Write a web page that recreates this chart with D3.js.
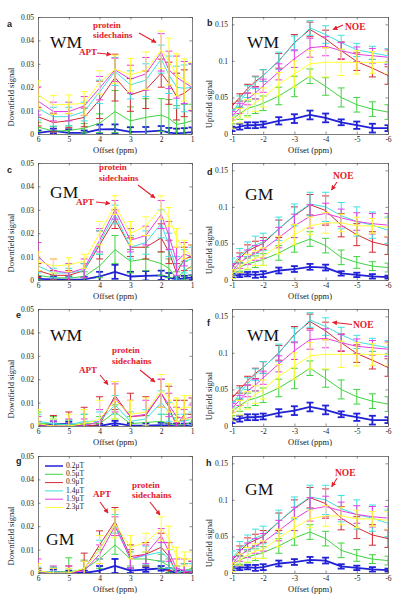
<!DOCTYPE html>
<html><head><meta charset="utf-8">
<script src="https://cdn.jsdelivr.net/npm/d3@7"></script>
<style>body{margin:0;background:#fff}svg{display:block}</style>
</head><body>
<script>
// ---------- data ----------
const offsetsDown = [6,5.5,5,4.5,4,3.5,3,2.5,2,1.75,1.5,1.25,1];
const offsetsUp = [-1,-1.25,-1.5,-1.75,-2,-2.5,-3,-3.5,-4,-4.5,-5,-5.5,-6];
const b1Labels = ["0.2\u03bcT","0.5\u03bcT","0.9\u03bcT","1.4\u03bcT","1.9\u03bcT","2.3\u03bcT"];
const seriesColors = ["#2121d6","#3fd43f","#d42a34","#40e0e0","#e63de6","#ffff33"];
const downXTicks = [6,5,4,3,2,1];
const upXTicks = [-1,-2,-3,-4,-5,-6];
const downYTicks = [0,0.01,0.02,0.03,0.04,0.05];
const upYTicks = [0,0.05,0.1,0.15];

// panel a: WM downfield (rows: 0.2,0.5,0.9,1.4,1.9,2.3 uT)
const aMean = [
 [0.0005,0.0013,0.0005,0.0005,0.002,0.0021,0.0009,0.001,0.0014,0.0006,0.0003,0.0005,0.0008],
 [0.003,0.0012,0.0015,0.0025,0.0046,0.0096,0.0056,0.0071,0.0081,0.0067,0.0041,0.0047,0.0057],
 [0.0074,0.0049,0.0057,0.0071,0.0146,0.0241,0.0167,0.0189,0.026,0.0217,0.016,0.0174,0.02],
 [0.011,0.0074,0.0074,0.0096,0.018,0.0267,0.021,0.023,0.032,0.0253,0.02,0.0195,0.02],
 [0.0141,0.0096,0.0096,0.012,0.0196,0.0274,0.0234,0.0257,0.0349,0.0274,0.0243,0.022,0.02],
 [0.0167,0.0124,0.0127,0.0131,0.022,0.0277,0.0253,0.0271,0.036,0.031,0.0253,0.0231,0.0206]];
const aErr = [
 [0.001,0.001,0.0015,0.001,0.002,0.002,0.002,0.002,0.002,0.002,0.002,0.002,0.002],
 [0.002,0.002,0.002,0.002,0.004,0.009,0.006,0.008,0.007,0.008,0.008,0.008,0.007],
 [0.004,0.004,0.003,0.004,0.008,0.01,0.007,0.008,0.006,0.009,0.01,0.01,0.01],
 [0.005,0.004,0.004,0.004,0.005,0.006,0.006,0.007,0.006,0.008,0.009,0.01,0.01],
 [0.006,0.004,0.004,0.004,0.005,0.005,0.006,0.007,0.008,0.008,0.009,0.009,0.01],
 [0.006,0.004,0.004,0.005,0.005,0.006,0.007,0.008,0.008,0.01,0.009,0.009,0.01]];

// panels b and f: WM upfield
const bMean = [
 [0.007,0.01,0.012,0.012,0.013,0.018,0.021,0.026,0.022,0.016,0.012,0.008,0.008],
 [0.02,0.028,0.035,0.038,0.042,0.052,0.065,0.079,0.065,0.05,0.04,0.034,0.03],
 [0.038,0.05,0.062,0.072,0.08,0.1,0.125,0.143,0.13,0.114,0.099,0.09,0.08],
 [0.028,0.045,0.058,0.07,0.08,0.1,0.124,0.145,0.136,0.125,0.115,0.111,0.107],
 [0.025,0.035,0.048,0.056,0.066,0.085,0.103,0.118,0.12,0.114,0.109,0.107,0.105],
 [0.015,0.025,0.035,0.043,0.05,0.068,0.082,0.096,0.098,0.098,0.098,0.098,0.098]];
const bErr = [
 [0.003,0.004,0.004,0.004,0.004,0.005,0.006,0.006,0.006,0.004,0.005,0.006,0.004],
 [0.006,0.008,0.01,0.01,0.01,0.012,0.014,0.01,0.012,0.013,0.01,0.01,0.01],
 [0.004,0.005,0.006,0.007,0.008,0.01,0.011,0.01,0.012,0.012,0.012,0.012,0.012],
 [0.005,0.007,0.008,0.008,0.008,0.012,0.01,0.01,0.012,0.01,0.009,0.009,0.01],
 [0.006,0.007,0.008,0.008,0.009,0.011,0.012,0.013,0.013,0.011,0.01,0.01,0.01],
 [0.008,0.01,0.012,0.012,0.013,0.016,0.018,0.018,0.02,0.018,0.016,0.015,0.015]];

// panel c: GM downfield
const cMean = [
 [0.0005,0.0003,0.0002,0.0003,0.0015,0.0035,0.0015,0.0018,0.002,0.001,0.0002,0.0008,0.001],
 [0.002,0.001,0.0008,0.0015,0.006,0.013,0.008,0.009,0.007,0.005,0.0005,0.004,0.006],
 [0.004,0.002,0.002,0.004,0.015,0.026,0.014,0.014,0.018,0.012,0.003,0.009,0.01],
 [0.006,0.003,0.003,0.004,0.016,0.028,0.014,0.016,0.024,0.015,0.005,0.008,0.009],
 [0.01,0.004,0.003,0.005,0.017,0.03,0.017,0.019,0.028,0.019,0.008,0.011,0.01],
 [0.008,0.006,0.0065,0.008,0.02,0.032,0.02,0.023,0.031,0.027,0.018,0.013,0.01]];
const cErr = [
 [0.001,0.001,0.001,0.001,0.002,0.003,0.002,0.002,0.002,0.002,0.001,0.001,0.001],
 [0.002,0.001,0.001,0.002,0.005,0.006,0.005,0.005,0.005,0.004,0.003,0.004,0.004],
 [0.003,0.002,0.002,0.003,0.006,0.004,0.004,0.005,0.006,0.005,0.004,0.005,0.005],
 [0.003,0.002,0.002,0.003,0.005,0.004,0.005,0.005,0.006,0.005,0.005,0.005,0.005],
 [0.006,0.005,0.004,0.004,0.005,0.004,0.005,0.004,0.006,0.006,0.006,0.005,0.005],
 [0.004,0.003,0.003,0.003,0.005,0.004,0.005,0.004,0.005,0.004,0.004,0.004,0.005]];

// panels d and h: GM upfield
const dMean = [
 [0.006,0.007,0.008,0.007,0.008,0.013,0.015,0.018,0.017,0.009,0.007,0.005,0.004],
 [0.012,0.018,0.022,0.025,0.028,0.037,0.048,0.056,0.047,0.031,0.024,0.019,0.017],
 [0.017,0.03,0.04,0.045,0.05,0.07,0.088,0.103,0.095,0.075,0.062,0.052,0.047],
 [0.02,0.033,0.042,0.048,0.052,0.07,0.089,0.104,0.1,0.088,0.08,0.075,0.068],
 [0.012,0.024,0.031,0.037,0.042,0.058,0.074,0.087,0.091,0.085,0.08,0.077,0.075],
 [0.008,0.018,0.025,0.03,0.032,0.048,0.062,0.074,0.078,0.078,0.074,0.074,0.072]];
const dErr = [
 [0.003,0.003,0.003,0.004,0.004,0.004,0.004,0.004,0.004,0.003,0.003,0.003,0.002],
 [0.006,0.006,0.008,0.008,0.008,0.01,0.01,0.01,0.01,0.01,0.008,0.006,0.006],
 [0.005,0.007,0.008,0.008,0.008,0.012,0.012,0.014,0.02,0.016,0.015,0.014,0.012],
 [0.01,0.01,0.01,0.012,0.012,0.016,0.015,0.016,0.02,0.018,0.02,0.018,0.018],
 [0.01,0.008,0.01,0.01,0.012,0.014,0.016,0.016,0.014,0.012,0.012,0.014,0.016],
 [0.006,0.008,0.01,0.01,0.012,0.012,0.014,0.012,0.014,0.012,0.012,0.01,0.012]];

// panel e: WM downfield
const eMean = [
 [0.0,0.001,0.0008,0.0,0.0,0.0012,0.0002,0.0002,0.0004,0.0,0.0,0.0,0.0],
 [0.001,0.001,0.0005,0.001,0.001,0.006,0.001,0.0015,0.002,0.001,0.0005,0.0005,0.002],
 [0.0,0.0,0.0,0.0,0.0005,0.013,0.004,0.0045,0.014,0.008,0.0,0.005,0.005],
 [0.002,0.001,0.0005,0.002,0.002,0.009,0.002,0.003,0.01,0.006,0.002,0.002,0.003],
 [0.0,0.0,0.0,0.0,0.002,0.012,0.004,0.005,0.014,0.009,0.004,0.003,0.004],
 [0.001,0.0,0.0,0.001,0.003,0.011,0.005,0.006,0.015,0.012,0.007,0.008,0.008]];
const eErr = [
 [0.001,0.001,0.001,0.001,0.001,0.001,0.001,0.001,0.001,0.001,0.001,0.001,0.001],
 [0.005,0.003,0.002,0.004,0.003,0.003,0.003,0.003,0.003,0.004,0.003,0.002,0.003],
 [0.002,0.0045,0.006,0.008,0.012,0.006,0.01,0.008,0.006,0.009,0.011,0.006,0.007],
 [0.003,0.002,0.002,0.003,0.004,0.004,0.004,0.004,0.005,0.004,0.003,0.003,0.003],
 [0.004,0.002,0.003,0.003,0.005,0.006,0.007,0.006,0.006,0.005,0.004,0.004,0.005],
 [0.006,0.003,0.005,0.006,0.008,0.008,0.006,0.006,0.007,0.006,0.005,0.005,0.005]];

// panel g: GM downfield
const gMean = [
 [0.0,0.0005,0.0,0.0,0.001,0.003,0.001,0.0015,0.002,0.001,0.0,0.0,0.0],
 [0.0,0.0005,0.0005,0.0015,0.006,0.012,0.006,0.006,0.005,0.003,0.0,0.001,0.002],
 [0.0,0.0,0.0,0.0015,0.012,0.022,0.007,0.008,0.011,0.007,0.0,0.0,0.001],
 [0.0005,0.0005,0.0,0.002,0.01,0.021,0.006,0.0075,0.009,0.006,0.0,0.001,0.001],
 [0.0,0.0,0.0,0.001,0.008,0.02,0.006,0.008,0.016,0.009,0.002,0.001,0.0],
 [0.001,0.0,0.0,0.002,0.01,0.021,0.011,0.013,0.019,0.015,0.007,0.006,0.006]];
const gErr = [
 [0.001,0.001,0.001,0.001,0.002,0.003,0.001,0.001,0.001,0.001,0.001,0.001,0.001],
 [0.002,0.002,0.006,0.004,0.004,0.004,0.003,0.003,0.003,0.003,0.002,0.003,0.003],
 [0.002,0.002,0.003,0.007,0.006,0.006,0.005,0.005,0.006,0.006,0.003,0.004,0.004],
 [0.002,0.002,0.002,0.003,0.004,0.004,0.004,0.004,0.004,0.004,0.003,0.003,0.003],
 [0.006,0.003,0.003,0.004,0.004,0.004,0.004,0.004,0.003,0.004,0.004,0.005,0.005],
 [0.003,0.002,0.002,0.003,0.006,0.006,0.005,0.004,0.005,0.005,0.004,0.003,0.003]];

// ---------- layout ----------
const W = 400, H = 601;
const colLeft = [38, 232], colWidth = [154, 156];
const rowTop = [17, 163, 309, 456], plotH = 117;
const serif = "'Liberation Serif','Times New Roman',serif";
const annotRed = "#e3202b";

const panels = [
 {letter:"a",col:0,row:0,kind:"down",mean:aMean,err:aErr,tissue:"WM",tpos:[12,31],lpos:[-31,10],
  texts:[["protein",55,11],["sidechains",55,21],["APT",41,38]],arrows:[[59,36,73,37.5],[101,16,118,25.5]]},
 {letter:"b",col:1,row:0,kind:"up",mean:bMean,err:bErr,tissue:"WM",tpos:[15,31],lpos:[-25,9],
  texts:[["NOE",113,12.5]],arrows:[[111,8,101,12.5]]},
 {letter:"c",col:0,row:1,kind:"down",mean:cMean,err:cErr,tissue:"GM",tpos:[12,35],lpos:[-31,10],
  texts:[["protein",61,7],["sidechains",61,18],["APT",38,42]],arrows:[[58,39,72,40.5],[100,22,117,35]]},
 {letter:"d",col:1,row:1,kind:"up",mean:dMean,err:dErr,tissue:"GM",tpos:[13,37],lpos:[-25,12],
  texts:[["NOE",101,16]],arrows:[[105,19,99.5,27]]},
 {letter:"e",col:0,row:2,kind:"down",mean:eMean,err:eErr,tissue:"WM",tpos:[12,32],lpos:[-22,9],
  texts:[["protein",74,44],["sidechains",74,55],["APT",41,64]],arrows:[[62,66,70,75.5],[102,61,117,73]]},
 {letter:"f",col:1,row:2,kind:"up",mean:bMean,err:bErr,tissue:"WM",tpos:[15,32],lpos:[-25,17],
  texts:[["NOE",121,18.5]],arrows:[[120,15.5,100.5,13.3]]},
 {letter:"g",col:0,row:3,kind:"down",mean:gMean,err:gErr,tissue:"GM",tpos:[8,89],lpos:[-22,8],legend:true,
  texts:[["protein",94,32],["sidechains",94,42],["APT",55,41]],arrows:[[62,46,70,57],[112,46,122,59]]},
 {letter:"h",col:1,row:3,kind:"up",mean:dMean,err:dErr,tissue:"GM",tpos:[13,39],lpos:[-26,10],
  texts:[["NOE",103,19.7]],arrows:[[105,22.3,99.7,30.7]]}
];

const svg = d3.select("body").append("svg").attr("width", W).attr("height", H)
  .style("background", "#fff");

const defs = svg.append("defs");
defs.append("marker").attr("id","arr").attr("viewBox","0 0 10 10").attr("refX",9).attr("refY",5)
  .attr("markerWidth",5).attr("markerHeight",5).attr("markerUnits","userSpaceOnUse").attr("orient","auto")
  .append("path").attr("d","M0,0L10,5L0,10Z").attr("fill",annotRed);

panels.forEach((p, pi) => {
  const x0 = colLeft[p.col], y0 = rowTop[p.row], w = colWidth[p.col], h = plotH;
  const isDown = p.kind === "down";
  const xs = isDown ? offsetsDown : offsetsUp;
  const x = d3.scaleLinear().domain(isDown ? [6,1] : [-1,-6]).range([0, w]);
  const y = d3.scaleLinear().domain(isDown ? [0,0.05] : [0,0.16]).range([h, 0]);
  const g = svg.append("g").attr("transform", `translate(${x0},${y0})`);

  defs.append("clipPath").attr("id", "clip" + pi).append("rect")
    .attr("x", 0).attr("y", 0).attr("width", w).attr("height", h);

  // axes (box with inward ticks)
  const yTicks = isDown ? downYTicks : upYTicks;
  const xTicks = isDown ? downXTicks : upXTicks;
  const fmt = d => d === 0 ? "0" : String(d);
  const axL = g.append("g").call(d3.axisLeft(y).tickValues(yTicks).tickFormat(fmt).tickSizeInner(-2.5).tickSizeOuter(0).tickPadding(4));
  const axB = g.append("g").attr("transform", `translate(0,${h})`)
    .call(d3.axisBottom(x).tickValues(xTicks).tickFormat(fmt).tickSizeInner(-2.5).tickSizeOuter(0).tickPadding(3));
  const axR = g.append("g").attr("transform", `translate(${w},0)`)
    .call(d3.axisRight(y).tickValues(yTicks).tickFormat("").tickSizeInner(-2.5).tickSizeOuter(0));
  const axT = g.append("g")
    .call(d3.axisTop(x).tickValues(xTicks).tickFormat("").tickSizeInner(-2.5).tickSizeOuter(0));
  [axL, axB, axR, axT].forEach(a => {
    a.select(".domain").attr("stroke", "#444").attr("stroke-width", 0.7);
    a.selectAll(".tick line").attr("stroke", "#444").attr("stroke-width", 0.6);
    a.selectAll("text").attr("font-family", serif).attr("font-size", 7.5).attr("fill", "#222");
  });

  // axis labels
  g.append("text").attr("x", w / 2).attr("y", h + 18.5).attr("text-anchor", "middle")
    .attr("font-family", serif).attr("font-size", 8.5).attr("fill", "#222").text("Offset (ppm)");
  const ylx = isDown ? -26 : -22, ylc = isDown ? 80 : 87;
  g.append("text").attr("transform", `translate(${ylx},${ylc}) rotate(-90)`).attr("text-anchor", "middle")
    .attr("dominant-baseline", "middle")
    .attr("font-family", serif).attr("font-size", 8.5).attr("fill", "#222")
    .text(isDown ? "Downfield signal" : "Upfield signal");

  // panel letter
  g.append("text").attr("x", p.lpos[0]).attr("y", p.lpos[1])
    .attr("font-family", "'Liberation Sans',Arial,sans-serif").attr("font-size", 9).attr("font-weight", "bold")
    .attr("fill", "#222").text(p.letter);

  // data
  const dg = g.append("g").attr("clip-path", `url(#clip${pi})`);
  const line = d3.line().x(d => x(d[0])).y(d => y(d[1]));
  p.mean.forEach((ser, si) => {
    const col = seriesColors[si];
    const lw = si === 0 ? 1.8 : 1.0;
    const pts = xs.map((xv, i) => [xv, ser[i], p.err[si][i]]);
    const sg = dg.append("g");
    pts.forEach(d => {
      const cx = x(d[0]), yl = y(d[1] - d[2]), yh = y(d[1] + d[2]);
      sg.append("line").attr("x1", cx).attr("x2", cx).attr("y1", yl).attr("y2", yh)
        .attr("stroke", col).attr("stroke-width", lw);
      [yl, yh].forEach(yy => sg.append("line").attr("x1", cx - 3.5).attr("x2", cx + 3.5)
        .attr("y1", yy).attr("y2", yy).attr("stroke", col).attr("stroke-width", lw));
    });
    sg.append("path").datum(pts).attr("d", line).attr("fill", "none")
      .attr("stroke", col).attr("stroke-width", lw).attr("stroke-linejoin", "round");
  });

  // tissue label
  g.append("text").attr("x", p.tpos[0]).attr("y", p.tpos[1]).attr("font-family", serif)
    .attr("font-size", 17.5).attr("fill", "#111").text(p.tissue);

  // annotations
  p.texts.forEach(t => {
    g.append("text").attr("x", t[1]).attr("y", t[2]).attr("font-family", serif)
      .attr("font-size", t[0] === "NOE" ? 9.5 : 9).attr("font-weight", "bold").attr("fill", annotRed).text(t[0]);
  });
  p.arrows.forEach(a => {
    g.append("line").attr("x1", a[0]).attr("y1", a[1]).attr("x2", a[2]).attr("y2", a[3])
      .attr("stroke", annotRed).attr("stroke-width", 1.1).attr("marker-end", "url(#arr)");
  });

  // legend
  if (p.legend) {
    const lg = g.append("g").attr("transform", "translate(3,3)");
    lg.append("rect").attr("x", 0).attr("y", 0).attr("width", 46).attr("height", 53).attr("fill", "#fff");
    b1Labels.forEach((lab, i) => {
      const yy = 7 + i * 8.3;
      lg.append("line").attr("x1", 4).attr("x2", 22).attr("y1", yy).attr("y2", yy)
        .attr("stroke", seriesColors[i]).attr("stroke-width", i === 0 ? 1.5 : 1.0);
      lg.append("text").attr("x", 25).attr("y", yy).attr("dominant-baseline", "middle")
        .attr("font-family", serif).attr("font-size", 7.5).attr("fill", "#222").text(lab);
    });
  }
});
</script>
</body></html>
